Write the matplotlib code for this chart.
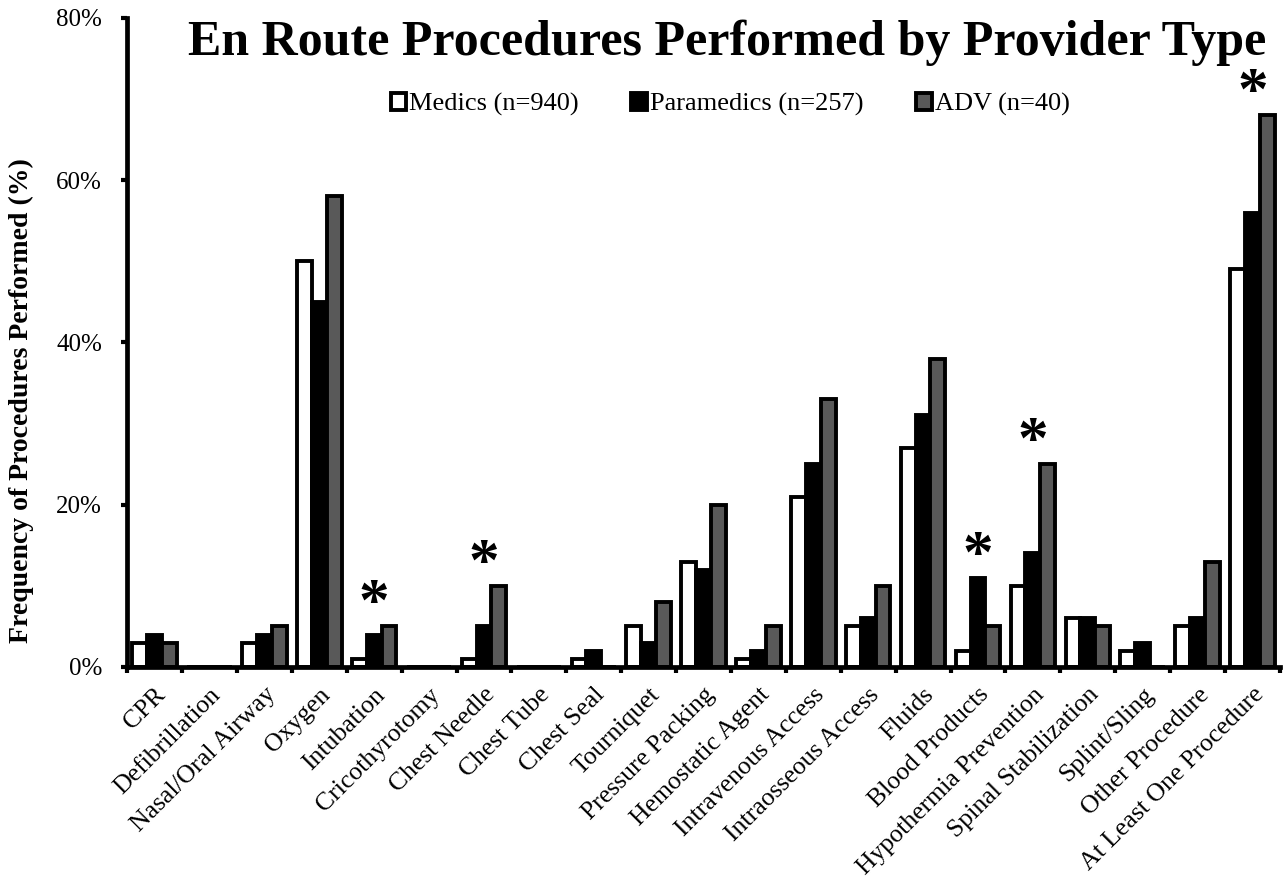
import numpy as np
import matplotlib.pyplot as plt
from matplotlib.ticker import FixedLocator, PercentFormatter

plt.rcParams['font.family'] = ['Liberation Serif', 'DejaVu Serif']

categories = ['CPR', 'Defibrillation', 'Nasal/Oral Airway', 'Oxygen', 'Intubation',
              'Cricothyrotomy', 'Chest Needle', 'Chest Tube', 'Chest Seal', 'Tourniquet',
              'Pressure Packing', 'Hemostatic Agent', 'Intravenous Access',
              'Intraosseous Access', 'Fluids', 'Blood Products', 'Hypothermia Prevention',
              'Spinal Stabilization', 'Splint/Sling', 'Other Procedure',
              'At Least One Procedure']
medics = [3, 0, 3, 50, 1, 0, 1, 0, 1, 5, 13, 1, 21, 5, 27, 2, 10, 6, 2, 5, 49]
paramedics = [4, 0, 4, 45, 4, 0, 5, 0, 2, 3, 12, 2, 25, 6, 31, 11, 14, 6, 3, 6, 56]
adv = [3, 0, 5, 58, 5, 0, 10, 0, 0, 8, 20, 5, 33, 10, 38, 5, 25, 5, 0, 13, 68]
series_names = ['Medics (n=940)', 'Paramedics (n=257)', 'ADV (n=40)']
significant = ['Intubation', 'Chest Needle', 'Blood Products',
               'Hypothermia Prevention', 'At Least One Procedure']

fig = plt.figure(figsize=(12.85, 8.9), dpi=100)
ax = fig.add_axes([0.099, 0.2506, 0.897, 0.7292])

x = np.arange(len(categories))
w = 0.27
colors = ['white', 'black', '#595959']
for i, (vals, c, name) in enumerate(zip([medics, paramedics, adv], colors, series_names)):
    ax.bar(x + (i - 1) * w, vals, w, color=c, edgecolor='black', linewidth=2.8,
           label=name, zorder=2)

# significance markers
for cat in significant:
    k = categories.index(cat)
    top = max(medics[k], paramedics[k], adv[k])
    ax.annotate('*', (x[k], top), xytext=(0, -5), textcoords='offset points',
                ha='center', va='bottom', fontsize=44, fontweight='bold')

ax.set_xlim(-0.5, len(categories) - 0.5)
ax.set_ylim(0, 80)
ax.yaxis.set_major_locator(FixedLocator([0, 20, 40, 60, 80]))
ax.yaxis.set_major_formatter(PercentFormatter(decimals=0))
ax.set_xticks(x)
ax.set_xticklabels(categories, rotation=45, ha='right', rotation_mode='anchor', fontsize=18.5)
ax.xaxis.set_minor_locator(FixedLocator(np.arange(-0.5, len(categories), 1)))
ax.tick_params(axis='x', which='major', length=0, pad=12)
ax.tick_params(axis='x', which='minor', length=4, width=3, direction='out')
ax.tick_params(axis='y', labelsize=18, length=4, width=3, direction='out', pad=14)

for s in ['top', 'right']:
    ax.spines[s].set_visible(False)
for s in ['left', 'bottom']:
    ax.spines[s].set_linewidth(3.4)

ax.set_ylabel('Frequency of Procedures Performed (%)', fontsize=20, fontweight='bold')
ax.yaxis.set_label_coords(-0.081, 0.41)
fig.text(0.566, 0.952, 'En Route Procedures Performed by Provider Type', ha='center', va='center',
         fontsize=36, fontweight='bold')
ax.legend(loc='center', bbox_to_anchor=(0.523, 0.866), ncol=3, frameon=False, fontsize=19,
          handlelength=0.6, handleheight=0.6, handletextpad=0.1, columnspacing=2.0)

fig.savefig('out.png', dpi=100)
